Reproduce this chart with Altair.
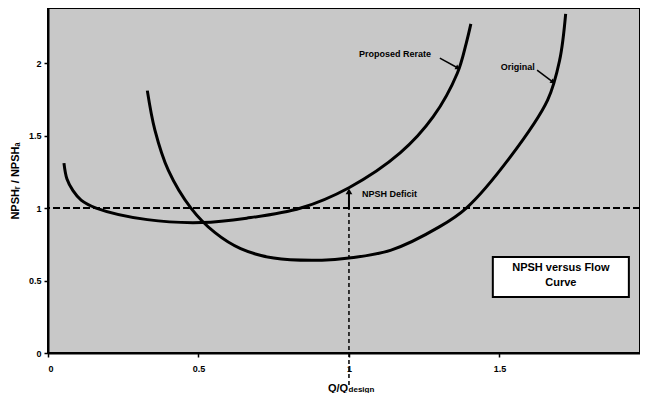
import altair as alt
import pandas as pd

# ---- data ----
proposed_q = [0.053, 0.063, 0.083, 0.11, 0.16, 0.33, 0.51, 0.66, 0.84, 1.0, 1.17, 1.28, 1.36, 1.39, 1.405]
proposed_v = [1.31, 1.20, 1.12, 1.055, 1.0, 0.92, 0.90, 0.93, 1.0, 1.14, 1.38, 1.63, 1.93, 2.14, 2.27]

original_q = [0.33, 0.355, 0.40, 0.475, 0.555, 0.64, 0.75, 0.91, 1.0, 1.14, 1.30, 1.39, 1.535, 1.66, 1.70, 1.72]
original_v = [1.81, 1.54, 1.26, 1.0, 0.83, 0.72, 0.655, 0.64, 0.655, 0.71, 0.87, 1.0, 1.35, 1.745, 2.02, 2.34]

x_ticks = [0, 0.5, 1, 1.5, 2]
y_ticks = [0, 0.5, 1, 1.5, 2]

ref_level = 1.0        # horizontal dashed line
design_q = 1.0         # vertical dashed line

label_text = ["Proposed Rerate", "Original", "NPSH Deficit"]
label_q = [1.153, 1.561, 1.043]
label_v = [2.063, 1.972, 1.097]

arrow_q1 = [1.302, 1.625]
arrow_v1 = [2.034, 1.952]
arrow_q2 = [1.362, 1.678]
arrow_v2 = [1.966, 1.869]
arrow_angle = [119, 127]

box_lines = ["NPSH versus Flow", "Curve"]
box_q = [1.704, 1.704]
box_v = [0.586, 0.483]
box_rect = dict(q1=1.478, q2=1.930, v1=0.386, v2=0.662)

x_title_main = "Q/Q"
x_title_sub = "design"
x_title_q = 0.997
x_title_v = -0.245

FONT = "Liberation Sans Narrow, Liberation Sans, Arial"

xs = alt.Scale(domain=[0, 1.967], nice=False, zero=False)
ys = alt.Scale(domain=[0, 2.38], nice=False, zero=False)

curves = pd.DataFrame(
    {"Q": proposed_q + original_q,
     "V": proposed_v + original_v,
     "series": ["Proposed Rerate"] * len(proposed_q) + ["Original"] * len(original_q)}
)

base_x = alt.X("Q:Q", scale=xs,
               axis=alt.Axis(values=x_ticks, format="~g", title=None,
                             grid=False, labelPadding=7))
base_y = alt.Y("V:Q", scale=ys,
               axis=alt.Axis(values=y_ticks, format="~g", title="NPSHᵣ / NPSHₐ",
                             grid=False, labelPadding=3, titlePadding=8))

lines = alt.Chart(curves).mark_line(color="black", strokeWidth=3, interpolate="catmull-rom").encode(
    x=base_x, y=base_y, detail="series:N"
)

hline = alt.Chart(pd.DataFrame({"V": [ref_level]})).mark_rule(
    color="black", strokeWidth=2, strokeDash=[7, 3]
).encode(y=alt.Y("V:Q", scale=ys))

vline = alt.Chart(pd.DataFrame({"Q": [design_q], "V": [-0.22], "V2": [ref_level]})).mark_rule(
    color="black", strokeWidth=1.5, strokeDash=[4, 3], clip=False
).encode(x=alt.X("Q:Q", scale=xs), y=alt.Y("V:Q", scale=ys), y2="V2:Q")

deficit = alt.Chart(pd.DataFrame({"Q": [design_q], "V": [ref_level], "V2": [1.11]})).mark_rule(
    color="black", strokeWidth=2
).encode(x=alt.X("Q:Q", scale=xs), y=alt.Y("V:Q", scale=ys), y2="V2:Q")

deficit_head = alt.Chart(pd.DataFrame({"Q": [design_q], "V": [1.115]})).mark_point(
    shape="triangle-up", filled=True, color="black", size=45, opacity=1
).encode(x=alt.X("Q:Q", scale=xs), y=alt.Y("V:Q", scale=ys))

labels_c = alt.Chart(pd.DataFrame({"t": label_text[:2], "Q": label_q[:2], "V": label_v[:2]})).mark_text(
    font=FONT, fontWeight="bold", fontSize=9, color="black", baseline="middle", align="center"
).encode(x=alt.X("Q:Q", scale=xs), y=alt.Y("V:Q", scale=ys), text="t:N")

labels_l = alt.Chart(pd.DataFrame({"t": label_text[2:], "Q": label_q[2:], "V": label_v[2:]})).mark_text(
    font=FONT, fontWeight="bold", fontSize=9, color="black", baseline="middle", align="left"
).encode(x=alt.X("Q:Q", scale=xs), y=alt.Y("V:Q", scale=ys), text="t:N")

arrows = alt.Chart(pd.DataFrame({"Q": arrow_q1, "V": arrow_v1, "Q2": arrow_q2, "V2": arrow_v2})).mark_rule(
    color="black", strokeWidth=1.5
).encode(x=alt.X("Q:Q", scale=xs), y=alt.Y("V:Q", scale=ys), x2="Q2:Q", y2="V2:Q")

heads = alt.Chart(pd.DataFrame({"Q": arrow_q2, "V": arrow_v2, "ang": arrow_angle})).mark_point(
    shape="triangle-up", filled=True, color="black", size=30, opacity=1
).encode(x=alt.X("Q:Q", scale=xs), y=alt.Y("V:Q", scale=ys),
         angle=alt.Angle("ang:Q", scale=None))

box = alt.Chart(pd.DataFrame([box_rect])).mark_rect(
    fill="white", stroke="black", strokeWidth=2
).encode(x=alt.X("q1:Q", scale=xs), x2="q2:Q", y=alt.Y("v1:Q", scale=ys), y2="v2:Q")

box_text = alt.Chart(pd.DataFrame({"t": box_lines, "Q": box_q, "V": box_v})).mark_text(
    font="Liberation Sans, Arial", fontWeight="bold", fontSize=11, color="black",
    align="center", baseline="middle"
).encode(x=alt.X("Q:Q", scale=xs), y=alt.Y("V:Q", scale=ys), text="t:N")

xt_main = alt.Chart(pd.DataFrame({"t": [x_title_main], "Q": [x_title_q], "V": [x_title_v]})).mark_text(
    font="Liberation Sans, Arial", fontWeight="bold", fontSize=11, color="black",
    align="right", baseline="middle"
).encode(x=alt.X("Q:Q", scale=xs), y=alt.Y("V:Q", scale=ys), text="t:N")

xt_sub = alt.Chart(pd.DataFrame({"t": [x_title_sub], "Q": [x_title_q], "V": [x_title_v - 0.012]})).mark_text(
    font=FONT, fontWeight="bold", fontSize=8, color="black",
    align="left", baseline="middle", dx=0.5
).encode(x=alt.X("Q:Q", scale=xs), y=alt.Y("V:Q", scale=ys), text="t:N")

chart = alt.layer(
    hline, vline, deficit, deficit_head, lines, arrows, heads, labels_c, labels_l, box, box_text,
    xt_main, xt_sub
).properties(
    width=592, height=345,
    autosize=alt.AutoSizeParams(type="none"),
    padding={"left": 40, "top": 0, "right": 0, "bottom": 40},
    background="white",
).configure_view(
    fill="#c8c8c8", stroke="black", strokeWidth=2
).configure_axis(
    labelFont="Liberation Sans, Arial", labelFontWeight="bold", labelFontSize=9, labelColor="black",
    titleFont="Liberation Sans, Arial", titleFontWeight="bold", titleFontSize=11, titleColor="black",
    domainColor="black", domainWidth=2, tickColor="black", tickSize=4, tickWidth=1.5,
)

chart.save("out.html", embed_options={"renderer": "svg", "actions": False})
